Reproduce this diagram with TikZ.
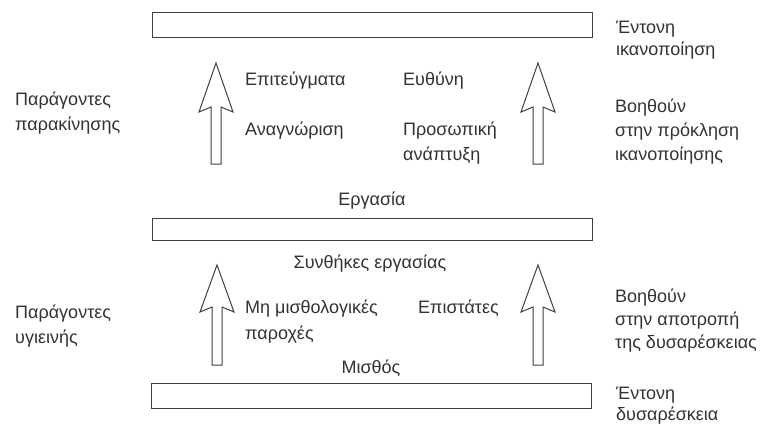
\documentclass[tikz,border=0pt]{standalone}
\usepackage{fontspec}
\setmainfont{Liberation Sans}
\begin{document}
\begin{tikzpicture}[x=1pt,y=-1pt,
  every node/.style={text=black!80, font=\fontsize{18}{24}\selectfont},
  bar/.style={draw=black!75, line width=1.1pt, rectangle, inner sep=0pt, anchor=north west},
  lbl/.style={anchor=base west, align=left, inner sep=0pt},
  ctr/.style={anchor=base, inner sep=0pt},
  blockarrow/.style={draw=black!75, line width=1pt, line join=miter, fill=white}]
\useasboundingbox (0,0) rectangle (764,432);
\fill[white] (0,0) rectangle (764,432);

% the three levels
\node[bar, minimum width=440pt, minimum height=25pt] (top) at (152,12) {};
\node[bar, minimum width=440pt, minimum height=22pt] (mid) at (152,218) {};
\node[bar, minimum width=440pt, minimum height=25pt] (bot) at (151,383) {};

% hollow upward arrow: tip x, tip y, barb y, bottom y
\newcommand{\uparr}[4]{%
  \draw[blockarrow] (#1,#2) -- (#1+17,#3) -- (#1+5,#3-5) -- (#1+5,#4)
    -- (#1-5,#4) -- (#1-5,#3-5) -- (#1-17,#3) -- cycle;}
\uparr{216}{63}{112}{164}
\uparr{538}{63}{112}{164}
\uparr{217}{265}{312}{365}
\uparr{538}{265}{312}{365}

% upper group (multi-line texts are placed by their last baseline)
\node[lbl] (epit) at (245,85) {Επιτεύγματα};
\node[lbl] (euth) at (403,85) {Ευθύνη};
\node[lbl] (anag) at (245,135) {Αναγνώριση};
\node[lbl, font=\fontsize{18}{25}\selectfont] (pros) at (403,160) {Προσωπική\\ανάπτυξη};
\node[ctr] (erg) at (372,205) {Εργασία};

% lower group
\node[ctr] (synth) at (370,268) {Συνθήκες εργασίας};
\node[lbl, font=\fontsize{18}{26}\selectfont] (mhmis) at (245,339) {Μη μισθολογικές\\παροχές};
\node[lbl] (epist) at (418,313) {Επιστάτες};
\node[ctr] (misth) at (371,373) {Μισθός};

% left column
\node[lbl, font=\fontsize{18}{25}\selectfont] (motiv) at (15,130) {Παράγοντες\\παρακίνησης};
\node[lbl, font=\fontsize{18}{25}\selectfont] (hyg) at (15,343) {Παράγοντες\\υγιεινής};

% right column
\node[lbl, font=\fontsize{18}{22}\selectfont] (sat) at (616,55) {Έντονη\\ικανοποίηση};
\node[lbl] (help1) at (615,160) {Βοηθούν\\στην πρόκληση\\ικανοποίησης};
\node[lbl, font=\fontsize{18}{23}\selectfont] (help2) at (615,348) {Βοηθούν\\στην αποτροπή\\της δυσαρέσκειας};
\node[lbl, font=\fontsize{18}{21}\selectfont] (dis) at (616,420) {Έντονη\\δυσαρέσκεια};
\end{tikzpicture}
\end{document}
